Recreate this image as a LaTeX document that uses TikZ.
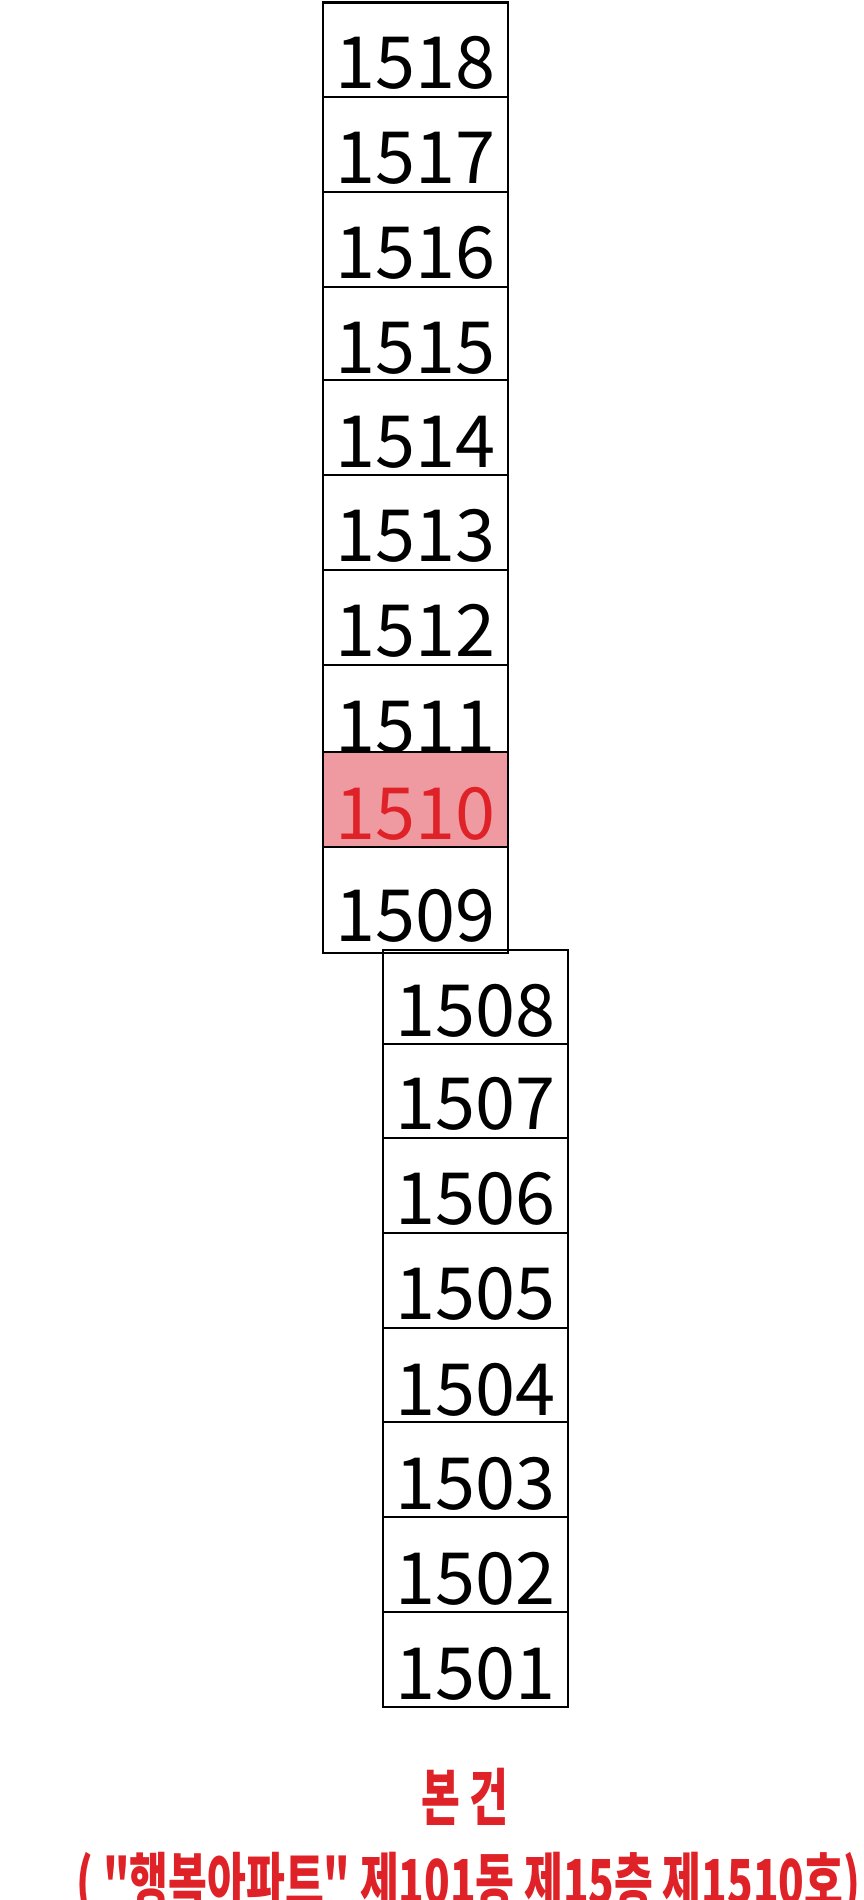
\documentclass[tikz,border=0pt]{standalone}
\usepackage{fontspec}
\setmainfont{Noto Sans CJK KR}
\newfontfamily\capfont{Noto Sans CJK KR}[FakeStretch=0.68]
\definecolor{roompink}{RGB}{238,154,160}
\definecolor{roomred}{RGB}{222,34,40}

\begin{document}
\begin{tikzpicture}[x=1pt,y=-1pt]
    \tikzstyle{room}=[rectangle,draw=black,line width=2.4pt,minimum width=185pt,inner sep=0pt,anchor=north,font=\fontsize{72}{72}\selectfont]
    \tikzstyle{caption}=[anchor=north,inner sep=0pt,text=roomred]
    \useasboundingbox (0,0) rectangle (863,1900);

    % upper stack, 1518 down to 1509
    \foreach \num/\y/\tht/\tdp in {1518/1.5/85.5/9, 1517/96/86/9, 1516/191/86/8.5, 1515/285.5/86.5/7,
            1514/379/87/8, 1513/474/86/9, 1512/569/86/9, 1511/664/87/0}
        \node[room,text height=\tht pt,text depth=\tdp pt] (R-\num) at (415.5,\y) {\num};
    \node[room,fill=roompink,text=roomred,text height=87pt,text depth=8pt] (R-1510) at (415.5,751) {1510};
    \node[room,text height=94pt,text depth=12pt] (R-1509) at (415.5,846) {1509};

    % lower stack, shifted right
    \foreach \num/\y/\tht/\tdp in {1508/949/86/8, 1507/1043/85/9, 1506/1137/86/9, 1505/1232/86/9,
            1504/1327/87/7, 1503/1421/87/8, 1502/1516/87/8, 1501/1611/87/8}
        \node[room,text height=\tht pt,text depth=\tdp pt] (R-\num) at (475.5,\y) {\num};

    \node[caption,font=\capfont\bfseries\fontsize{62}{62}\selectfont] (main) at (465,1768) {본 건};
    \node[caption,font=\capfont\bfseries\fontsize{62}{62}\selectfont] (addr) at (468.5,1852) {( "행복아파트" 제101동 제15층 제1510호)};
\end{tikzpicture}
\end{document}
